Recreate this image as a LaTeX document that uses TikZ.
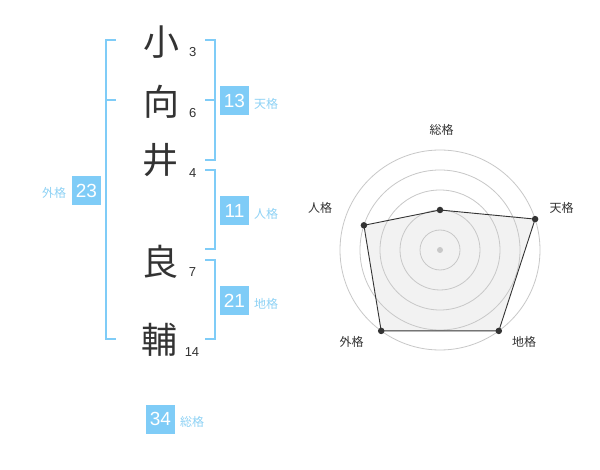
\documentclass[tikz,border=0pt]{standalone}
\usepackage{fontspec}
\setmainfont{Liberation Sans}
\newfontfamily\cjk{Noto Sans CJK JP}
\definecolor{ink}{HTML}{333333}
\definecolor{sky}{HTML}{7FCCF7}
\definecolor{skytext}{HTML}{8ED2F5}
\definecolor{ring}{HTML}{C8C8C8}
\definecolor{polyfill}{HTML}{F2F2F2}
\begin{document}
\begin{tikzpicture}[x=1pt,y=-1pt,
  kanji/.style={font=\cjk\fontsize{36}{36}\selectfont, text=ink, inner sep=0pt},
  strokes/.style={font=\fontsize{13}{13}\selectfont, text=ink, inner sep=0pt},
  scorebox/.style={fill=sky, text=white, minimum width=29pt, minimum height=29pt, inner sep=0pt, font=\fontsize{19}{19}\selectfont},
  scorelabel/.style={text=skytext, font=\cjk\fontsize{12}{12}\selectfont, inner sep=0pt},
  bracket/.style={draw=sky, line width=2pt},
  ringline/.style={draw=ring, line width=0.8pt},
  axislabel/.style={text=ink, font=\cjk\fontsize{12}{12}\selectfont, inner sep=0pt},
  vdot/.style={circle, fill=ink, inner sep=0pt, minimum size=6.5pt}]
\fill[white] (0,0) rectangle (600,470);
\useasboundingbox (0,0) rectangle (600,470);
% kanji
\node[kanji] (k1) at (161,42) {小};
\node[kanji] (k2) at (161,102) {向};
\node[kanji] (k3) at (160,160) {井};
\node[kanji] (k4) at (160,262) {良};
\node[kanji] (k5) at (159,340) {輔};
% stroke counts
\node[strokes] (n1) at (192.7,52.5) {3};
\node[strokes] (n2) at (192.7,112.7) {6};
\node[strokes] (n3) at (192.7,173) {4};
\node[strokes] (n4) at (192.5,272) {7};
\node[strokes] (n5) at (192,352.5) {14};
% left bracket (外格)
\coordinate (lt) at (115.7,40);
\coordinate (lm) at (115.7,100);
\coordinate (lb) at (115.7,339.5);
\draw[bracket] (lt) -- (105.5,40) -- (105.5,339.5) -- (lb);
\draw[bracket] (105.5,100) -- (lm);
% right brackets
\draw[bracket] (205,40) -- (214.5,40) -- (214.5,160) -- (205,160);
\draw[bracket] (205,100) -- (214.5,100);
\draw[bracket] (205,170) -- (214.5,170) -- (214.5,249.5) -- (205,249.5);
\draw[bracket] (205,260) -- (214.5,260) -- (214.5,339.5) -- (205,339.5);
% score boxes
\node[scorebox] (s13) at (234.5,100.5) {13};
\node[scorelabel] (l13) at (266,104.3) {天格};
\node[scorebox] (s11) at (234.5,210.5) {11};
\node[scorelabel] (l11) at (266,213.5) {人格};
\node[scorebox] (s21) at (234.5,300.5) {21};
\node[scorelabel] (l21) at (266,304.3) {地格};
\node[scorebox] (s23) at (86.5,190.7) {23};
\node[scorelabel] (l23) at (54,193.3) {外格};
\node[scorebox] (s34) at (160.5,419) {34};
\node[scorelabel] (l34) at (192,422.3) {総格};
% radar
\coordinate (c) at (440,250);
\coordinate (pS) at (440,210);
\coordinate (pT) at (535.1,219.1);
\coordinate (pC) at (498.8,330.9);
\coordinate (pG) at (381.2,330.9);
\coordinate (pJ) at (363.9,225.3);
\fill[polyfill] (pS) -- (pT) -- (pC) -- (pG) -- (pJ) -- cycle;
\foreach \r in {20,40,60,80,100} \draw[ringline] (c) circle (\r pt);
\draw[draw=ink, line width=0.9pt] (pS) -- (pT) -- (pC) -- (pG) -- (pJ) -- cycle;
\node[circle, fill=ring, inner sep=0pt, minimum size=6pt] (cd) at (c) {};
\foreach \p in {pS,pT,pC,pG,pJ} \node[vdot] (d\p) at (\p) {};
\node[axislabel] (aS) at (441.7,130) {総格};
\node[axislabel] (aT) at (561.7,208.3) {天格};
\node[axislabel] (aJ) at (320,208.3) {人格};
\node[axislabel] (aG) at (351.7,342.3) {外格};
\node[axislabel] (aC) at (524.2,342.3) {地格};
\end{tikzpicture}
\end{document}
